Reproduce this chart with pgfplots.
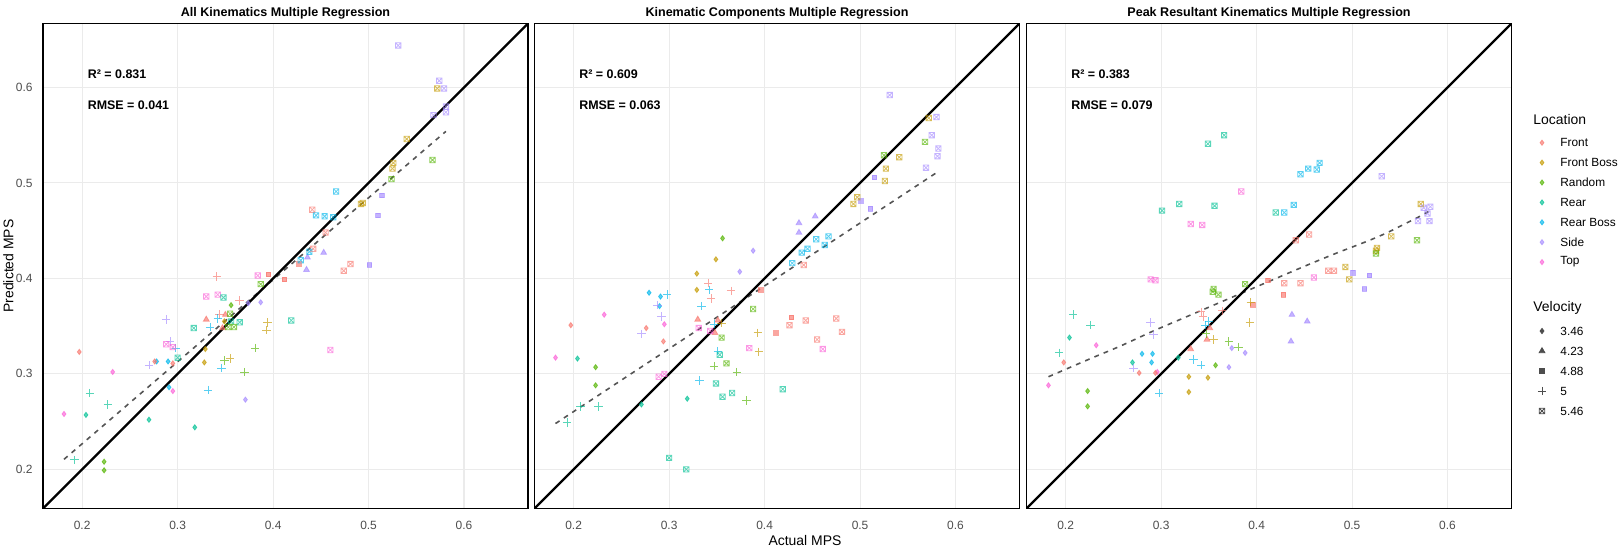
\documentclass[border=0pt]{standalone}
\usepackage{fontspec}
\setmainfont{Liberation Sans}
\usepackage{pgfplots}
\pgfplotsset{compat=1.18}
\definecolor{cF}{HTML}{F8766D}
\definecolor{cFB}{HTML}{C49A00}
\definecolor{cRa}{HTML}{53B400}
\definecolor{cRe}{HTML}{00C094}
\definecolor{cRB}{HTML}{00B6EB}
\definecolor{cS}{HTML}{A58AFF}
\definecolor{cT}{HTML}{FB61D7}
\definecolor{tickc}{HTML}{4D4D4D}
\definecolor{gridc}{HTML}{EBEBEB}
\definecolor{fitc}{HTML}{555555}

% square with a cross (velocity 5.46)
\pgfdeclareplotmark{sqx}{%
  \pgfpathrectangle{\pgfpoint{-\pgfplotmarksize}{-\pgfplotmarksize}}{\pgfpoint{2\pgfplotmarksize}{2\pgfplotmarksize}}%
  \pgfpathmoveto{\pgfpoint{-\pgfplotmarksize}{-\pgfplotmarksize}}%
  \pgfpathlineto{\pgfpoint{\pgfplotmarksize}{\pgfplotmarksize}}%
  \pgfpathmoveto{\pgfpoint{-\pgfplotmarksize}{\pgfplotmarksize}}%
  \pgfpathlineto{\pgfpoint{\pgfplotmarksize}{-\pgfplotmarksize}}%
  \pgfusepathqstroke}

\tikzset{
  pt/.style={draw=#1, fill=#1, opacity=0.65},
  ann/.style={anchor=west, inner sep=0pt, font=\bfseries\fontsize{6.25}{7}\selectfont},
  ttl/.style={anchor=base, inner sep=0pt, font=\bfseries\fontsize{6.3}{7}\selectfont},
  lgt/.style={anchor=west, inner sep=0pt, font=\fontsize{7}{8}\selectfont},
  lgl/.style={anchor=west, inner sep=0pt, font=\fontsize{5.95}{7}\selectfont},
}
\pgfplotsset{
  locs/.style={scatter, only marks, scatter src=explicit symbolic,
    scatter/classes={F={pt=cF}, FB={pt=cFB}, Ra={pt=cRa}, Re={pt=cRe},
                     RB={pt=cRB}, S={pt=cS}, T={pt=cT}}},
  va/.style={locs, mark=diamond*, mark size=1.3bp},
  vb/.style={locs, mark=triangle*, mark size=1.65bp},
  vc/.style={locs, mark=square*, mark size=1.15bp},
  vd/.style={locs, mark=+, mark size=2.1bp, mark options={line width=0.45bp}},
  ve/.style={locs, mark=sqx, mark size=1.35bp, mark options={line width=0.4bp, fill=none}},
  fitl/.style={fitc, line width=0.8bp, dash pattern=on 2.4bp off 2.6bp},
  diag/.style={black, line width=1.1bp},
  panel/.style={scale only axis, width=242.5bp, height=242.5bp, anchor=south west,
    xmin=0.159, xmax=0.667, ymin=0.159, ymax=0.667,
    xtick={0.2,0.3,0.4,0.5,0.6}, ytick={0.2,0.3,0.4,0.5,0.6},
    xticklabels={0.2,0.3,0.4,0.5,0.6},
    grid=major, major grid style={gridc, line width=0.55bp},
    tick style={draw=none}, axis line style={black, line width=0.75bp},
    ticklabel style={font=\fontsize{6}{7}\selectfont, text=tickc, inner sep=0pt},
    xticklabel style={yshift=-6bp}, yticklabel style={xshift=-5bp}},
}

\begin{document}
\begin{tikzpicture}
\useasboundingbox (0,0) rectangle (810bp,275bp);

% ---------- All Kinematics ----------
\begin{axis}[panel, at={(21.5bp,20.75bp)}, yticklabels={0.2,0.3,0.4,0.5,0.6}]
\addplot[va] coordinates {(0.356,0.372)[Ra] (0.387,0.375)[S] (0.374,0.374)[S] (0.349,0.355)[FB]
 (0.329,0.326)[FB] (0.328,0.312)[FB] (0.278,0.313)[RB] (0.276,0.313)[F] (0.290,0.313)[RB]
 (0.295,0.311)[F] (0.197,0.323)[F] (0.232,0.302)[T] (0.291,0.286)[RB] (0.295,0.282)[T]
 (0.371,0.273)[S] (0.181,0.258)[T] (0.204,0.257)[Re] (0.270,0.252)[Re] (0.318,0.244)[Re]
 (0.223,0.208)[Ra] (0.223,0.199)[Ra]};
\addplot[vb] coordinates {(0.453,0.427)[S] (0.436,0.422)[S] (0.435,0.409)[S] (0.350,0.362)[F]
 (0.330,0.357)[F] (0.347,0.348)[F]};
\addplot[vc] coordinates {(0.514,0.487)[S] (0.510,0.466)[S] (0.501,0.414)[S] (0.427,0.415)[F]
 (0.395,0.404)[F] (0.412,0.399)[F]};
\addplot[vd] coordinates {(0.341,0.402)[F] (0.365,0.377)[F] (0.344,0.362)[F] (0.342,0.358)[RB]
 (0.394,0.354)[FB] (0.393,0.346)[FB] (0.288,0.357)[S] (0.334,0.349)[RB] (0.292,0.334)[S]
 (0.298,0.327)[RB] (0.381,0.327)[Ra] (0.355,0.316)[FB] (0.349,0.314)[Ra] (0.346,0.306)[RB]
 (0.270,0.309)[S] (0.370,0.302)[Ra] (0.332,0.283)[RB] (0.208,0.280)[Re] (0.227,0.268)[Re]
 (0.192,0.210)[Re]};
\addplot[ve] coordinates {(0.531,0.644)[S] (0.574,0.607)[S] (0.572,0.599)[FB] (0.579,0.599)[S]
 (0.581,0.580)[S] (0.581,0.574)[S] (0.568,0.571)[S] (0.540,0.546)[FB] (0.526,0.521)[FB]
 (0.525,0.515)[FB] (0.567,0.524)[Ra] (0.524,0.504)[Ra] (0.466,0.491)[RB] (0.494,0.479)[FB]
 (0.492,0.478)[FB] (0.441,0.472)[F] (0.445,0.466)[RB] (0.454,0.465)[RB] (0.463,0.464)[RB]
 (0.455,0.448)[F] (0.442,0.431)[F] (0.438,0.428)[RB] (0.429,0.419)[RB] (0.481,0.415)[F]
 (0.474,0.408)[F] (0.384,0.403)[T] (0.387,0.394)[Ra] (0.330,0.381)[T] (0.342,0.383)[T]
 (0.348,0.380)[Re] (0.355,0.363)[Ra] (0.356,0.355)[Re] (0.365,0.354)[Re] (0.419,0.356)[Re]
 (0.317,0.348)[Re] (0.353,0.349)[Ra] (0.359,0.349)[Ra] (0.288,0.331)[T] (0.295,0.328)[T]
 (0.460,0.325)[T] (0.300,0.317)[Re]};
\addplot[fitl] coordinates {(0.181,0.2105) (0.581,0.554)};
\addplot[diag] coordinates {(0.159,0.159) (0.667,0.667)};
\node[ann] at (axis cs:0.2055,0.614) {R² = 0.831};
\node[ann] at (axis cs:0.2055,0.5816) {RMSE = 0.041};
\end{axis}

% ---------- Kinematic Components ----------
\begin{axis}[panel, at={(267.25bp,20.75bp)}, yticklabels={}]
\addplot[va] coordinates {(0.374,0.407)[S] (0.388,0.429)[S] (0.356,0.442)[Ra] (0.349,0.420)[FB]
 (0.329,0.405)[FB] (0.329,0.388)[FB] (0.279,0.385)[RB] (0.291,0.381)[RB] (0.290,0.371)[RB]
 (0.232,0.362)[T] (0.197,0.351)[F] (0.295,0.352)[T] (0.276,0.348)[F] (0.294,0.334)[F]
 (0.204,0.316)[Re] (0.181,0.317)[T] (0.223,0.307)[Ra] (0.223,0.288)[Ra] (0.319,0.274)[Re]
 (0.271,0.268)[Re]};
\addplot[vb] coordinates {(0.453,0.465)[S] (0.436,0.458)[S] (0.436,0.448)[S] (0.330,0.357)[F]
 (0.351,0.356)[F] (0.348,0.343)[F]};
\addplot[vc] coordinates {(0.515,0.506)[S] (0.501,0.481)[S] (0.511,0.473)[S] (0.396,0.388)[F]
 (0.428,0.359)[F] (0.412,0.343)[F]};
\addplot[vd] coordinates {(0.341,0.395)[F] (0.342,0.388)[RB] (0.365,0.387)[F] (0.298,0.383)[RB]
 (0.344,0.379)[F] (0.334,0.371)[RB] (0.288,0.372)[S] (0.292,0.360)[S] (0.347,0.352)[RB]
 (0.271,0.342)[S] (0.393,0.343)[FB] (0.394,0.323)[FB] (0.355,0.353)[FB] (0.351,0.324)[RB]
 (0.347,0.308)[Ra] (0.371,0.302)[Ra] (0.332,0.293)[RB] (0.381,0.272)[Ra] (0.207,0.266)[Re]
 (0.226,0.266)[Re] (0.193,0.249)[Re]};
\addplot[ve] coordinates {(0.531,0.592)[S] (0.572,0.568)[FB] (0.580,0.569)[S] (0.575,0.550)[S]
 (0.568,0.543)[Ra] (0.582,0.536)[S] (0.581,0.528)[S] (0.525,0.529)[Ra] (0.541,0.527)[FB]
 (0.527,0.515)[FB] (0.526,0.502)[FB] (0.569,0.516)[S] (0.497,0.485)[FB] (0.493,0.478)[FB]
 (0.454,0.441)[RB] (0.467,0.444)[RB] (0.463,0.435)[RB] (0.445,0.431)[RB] (0.439,0.427)[RB]
 (0.429,0.416)[RB] (0.441,0.414)[F] (0.388,0.368)[Ra] (0.443,0.356)[F] (0.475,0.358)[F]
 (0.426,0.351)[F] (0.481,0.344)[F] (0.355,0.338)[Ra] (0.455,0.336)[F] (0.331,0.348)[T]
 (0.343,0.345)[T] (0.384,0.327)[T] (0.461,0.326)[T] (0.353,0.320)[Re] (0.360,0.311)[Ra]
 (0.289,0.297)[T] (0.295,0.300)[T] (0.349,0.290)[Re] (0.366,0.280)[Re] (0.356,0.276)[Re]
 (0.419,0.284)[Re] (0.300,0.212)[Re] (0.318,0.200)[Re]};
\addplot[fitl] coordinates {(0.181,0.248) (0.582,0.512)};
\addplot[diag] coordinates {(0.159,0.159) (0.667,0.667)};
\node[ann] at (axis cs:0.2055,0.614) {R² = 0.609};
\node[ann] at (axis cs:0.2055,0.5816) {RMSE = 0.063};
\end{axis}

% ---------- Peak Resultant Kinematics ----------
\begin{axis}[panel, at={(513.25bp,20.75bp)}, yticklabels={}]
\addplot[va] coordinates {(0.204,0.338)[Re] (0.232,0.330)[T] (0.280,0.321)[RB] (0.291,0.321)[RB]
 (0.198,0.312)[F] (0.270,0.312)[Re] (0.290,0.312)[RB] (0.357,0.309)[Ra] (0.371,0.307)[S]
 (0.277,0.301)[F] (0.296,0.302)[T] (0.294,0.301)[F] (0.329,0.297)[FB] (0.349,0.296)[FB]
 (0.329,0.281)[FB] (0.182,0.288)[T] (0.223,0.282)[Ra] (0.223,0.266)[Ra] (0.374,0.327)[S]
 (0.388,0.322)[S] (0.318,0.317)[Re]};
\addplot[vb] coordinates {(0.437,0.362)[S] (0.453,0.355)[S] (0.436,0.334)[S] (0.351,0.348)[F]
 (0.348,0.336)[F] (0.331,0.326)[F]};
\addplot[vc] coordinates {(0.501,0.406)[S] (0.518,0.403)[S] (0.513,0.389)[S] (0.412,0.398)[F]
 (0.428,0.383)[F] (0.396,0.372)[F]};
\addplot[vd] coordinates {(0.394,0.375)[FB] (0.342,0.365)[F] (0.364,0.366)[F] (0.393,0.354)[FB]
 (0.208,0.362)[Re] (0.226,0.351)[Re] (0.289,0.354)[S] (0.292,0.341)[S] (0.350,0.355)[RB]
 (0.346,0.351)[RB] (0.347,0.342)[Ra] (0.355,0.336)[FB] (0.371,0.334)[Ra] (0.381,0.328)[Ra]
 (0.193,0.322)[Re] (0.334,0.315)[RB] (0.342,0.309)[RB] (0.271,0.306)[S] (0.298,0.280)[RB]
 (0.344,0.360)[F]};
\addplot[ve] coordinates {(0.366,0.550)[Re] (0.349,0.541)[Re] (0.466,0.521)[RB] (0.454,0.515)[RB]
 (0.463,0.514)[RB] (0.446,0.509)[RB] (0.531,0.507)[S] (0.384,0.491)[T] (0.319,0.478)[Re]
 (0.356,0.476)[Re] (0.301,0.471)[Re] (0.439,0.477)[RB] (0.420,0.469)[Re] (0.429,0.469)[RB]
 (0.331,0.457)[T] (0.343,0.456)[T] (0.572,0.478)[FB] (0.575,0.474)[S] (0.582,0.475)[S]
 (0.579,0.468)[S] (0.569,0.460)[S] (0.581,0.460)[S] (0.541,0.444)[FB] (0.568,0.440)[Ra]
 (0.455,0.446)[F] (0.441,0.440)[F] (0.526,0.432)[FB] (0.525,0.429)[FB] (0.525,0.426)[Ra]
 (0.493,0.412)[FB] (0.497,0.399)[FB] (0.475,0.408)[F] (0.481,0.408)[F] (0.460,0.401)[T]
 (0.429,0.395)[F] (0.446,0.395)[F] (0.289,0.399)[T] (0.294,0.398)[T] (0.355,0.389)[Ra]
 (0.354,0.386)[Ra] (0.360,0.383)[Ra] (0.388,0.394)[Ra]};
\addplot[fitl, smooth] coordinates {(0.182,0.297) (0.226,0.316) (0.257,0.329) (0.292,0.345) (0.327,0.360)
 (0.362,0.375) (0.397,0.390) (0.432,0.405) (0.458,0.416) (0.485,0.427) (0.516,0.439)
 (0.537,0.448) (0.555,0.457) (0.569,0.464) (0.580,0.470)};
\addplot[diag] coordinates {(0.159,0.159) (0.667,0.667)};
\node[ann] at (axis cs:0.2055,0.614) {R² = 0.383};
\node[ann] at (axis cs:0.2055,0.5816) {RMSE = 0.079};
\end{axis}

% ---------- titles, axis titles and legend (pixel canvas, y from top) ----------
\begin{axis}[at={(0,0)}, anchor=south west, scale only axis, width=810bp, height=275bp,
  xmin=0, xmax=1620, ymin=0, ymax=550, y dir=reverse, hide axis, clip=false]
\node[ttl] at (axis cs:285.5,16) {All Kinematics Multiple Regression};
\node[ttl] at (axis cs:777,16) {Kinematic Components Multiple Regression};
\node[ttl] at (axis cs:1269,16) {Peak Resultant Kinematics Multiple Regression};
\node[rotate=90, font=\fontsize{7}{8}\selectfont] at (axis cs:8.5,266) {Predicted MPS};
\node[font=\fontsize{7}{8}\selectfont] at (axis cs:805,541) {Actual MPS};
% Location legend
\node[lgt] at (axis cs:1533,120) {Location};
\addplot[only marks, mark=diamond*, mark size=1.3bp, color=cF, opacity=0.65] coordinates {(1542,142.7)};
\addplot[only marks, mark=diamond*, mark size=1.3bp, color=cFB, opacity=0.65] coordinates {(1542,162.6)};
\addplot[only marks, mark=diamond*, mark size=1.3bp, color=cRa, opacity=0.65] coordinates {(1542,182.5)};
\addplot[only marks, mark=diamond*, mark size=1.3bp, color=cRe, opacity=0.65] coordinates {(1542,202.4)};
\addplot[only marks, mark=diamond*, mark size=1.3bp, color=cRB, opacity=0.65] coordinates {(1542,222.3)};
\addplot[only marks, mark=diamond*, mark size=1.3bp, color=cS, opacity=0.65] coordinates {(1542,242.2)};
\addplot[only marks, mark=diamond*, mark size=1.3bp, color=cT, opacity=0.65] coordinates {(1542,262.1)};
\node[lgl] at (axis cs:1560,142.7) {Front};
\node[lgl] at (axis cs:1560,162.6) {Front Boss};
\node[lgl] at (axis cs:1560,182.5) {Random};
\node[lgl] at (axis cs:1560,202.4) {Rear};
\node[lgl] at (axis cs:1560,222.3) {Rear Boss};
\node[lgl] at (axis cs:1560,242.2) {Side};
\node[lgl] at (axis cs:1560,262.1) {Top};
% Velocity legend
\node[lgt] at (axis cs:1533,308) {Velocity};
\addplot[only marks, mark=diamond*, mark size=1.3bp, color=tickc] coordinates {(1542,331)};
\addplot[only marks, mark=triangle*, mark size=1.65bp, color=tickc] coordinates {(1542,351)};
\addplot[only marks, mark=square*, mark size=1.15bp, color=tickc] coordinates {(1542,371)};
\addplot[only marks, mark=+, mark size=2.1bp, color=tickc, mark options={line width=0.45bp}] coordinates {(1542,391)};
\addplot[only marks, mark=sqx, mark size=1.35bp, color=tickc, mark options={line width=0.4bp}] coordinates {(1542,411)};
\node[lgl] at (axis cs:1560,331) {3.46};
\node[lgl] at (axis cs:1560,351) {4.23};
\node[lgl] at (axis cs:1560,371) {4.88};
\node[lgl] at (axis cs:1560,391) {5};
\node[lgl] at (axis cs:1560,411) {5.46};
\end{axis}
\end{tikzpicture}
\end{document}
